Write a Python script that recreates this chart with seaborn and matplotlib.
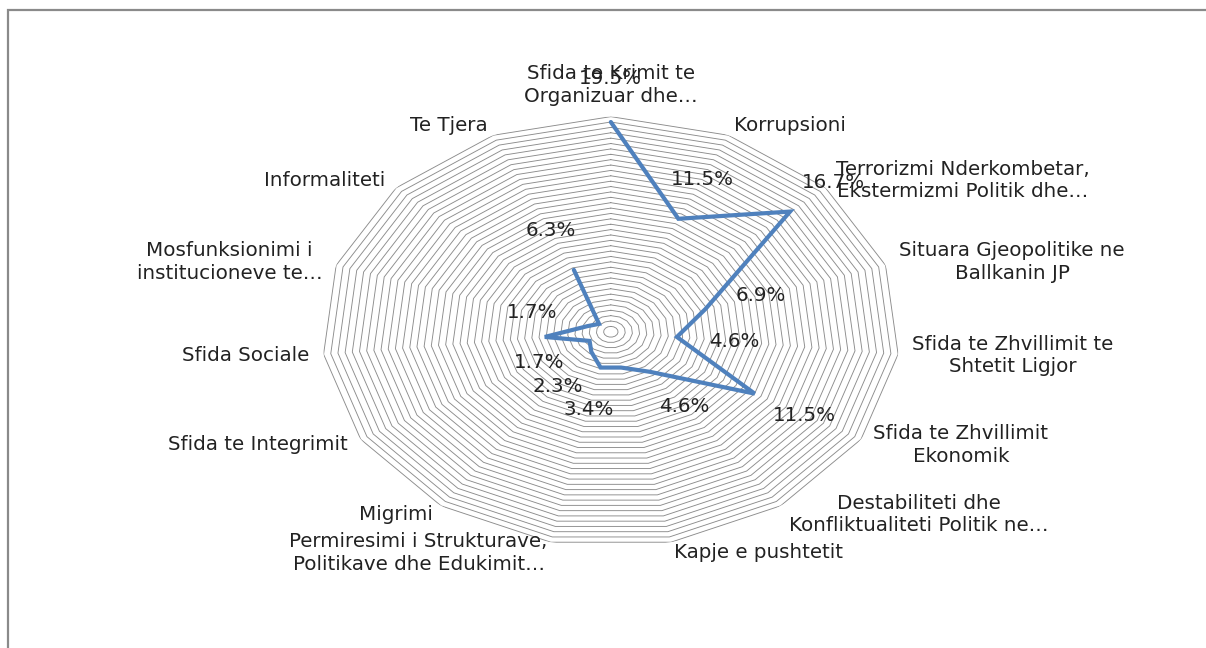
import numpy as np
import matplotlib
matplotlib.use("Agg")
import matplotlib.pyplot as plt
from matplotlib.patches import Rectangle
import seaborn as sns

# categories clockwise from the top
categories = [
    "Sfida te Krimit te\nOrganizuar dhe…",
    "Korrupsioni",
    "Terrorizmi Nderkombetar,\nEkstermizmi Politik dhe…",
    "Situara Gjeopolitike ne\nBallkanin JP",
    "Sfida te Zhvillimit te\nShtetit Ligjor",
    "Sfida te Zhvillimit\nEkonomik",
    "Destabiliteti dhe\nKonfliktualiteti Politik ne…",
    "Kapje e pushtetit",
    "Permiresimi i Strukturave,\nPolitikave dhe Edukimit…",
    "Migrimi",
    "Sfida te Integrimit",
    "Sfida Sociale",
    "Mosfunksionimi i\ninstitucioneve te…",
    "Informaliteti",
    "Te Tjera",
]
values = [19.5, 11.5, 16.7, 6.9, 4.6, 11.5, 4.6, 3.4, 3.4, 2.3, 1.7, 4.6, 1.7, 1.1, 6.3]
# some data labels are not shown in the original
label_shown = [True, True, True, True, True, True, True, False,
               True, True, True, False, True, False, True]

r_max = 20
ring_step = 0.5

sns.set_theme(style="white")
plt.rcParams["font.family"] = ["DejaVu Sans"]
text_color = "#222222"
font_size = 14.3

fig = plt.figure(figsize=(12.06, 6.48), dpi=100)

# outer frame of the chart area
fig.patches.append(Rectangle((8 / 1206, -0.05), 1.1, 0.05 + 1 - 10 / 648,
                             transform=fig.transFigure, fill=False,
                             edgecolor="#8a8a8a", linewidth=1.6))

# polar axes, stretched horizontally like the original
ax = fig.add_axes([0.267, 0.156, 0.479, 0.664], projection="polar")
ax.set_aspect("auto")
ax.set_theta_zero_location("N")
ax.set_theta_direction(-1)
ax.set_ylim(0, r_max)
ax.grid(False)
ax.spines["polar"].set_visible(False)
ax.set_xticks([])
ax.set_yticks([])
ax.patch.set_alpha(0)

n = len(categories)
theta = np.linspace(0, 2 * np.pi, n, endpoint=False)
theta_closed = np.append(theta, theta[0])

# polygon gridlines
for r in np.arange(ring_step, r_max + 0.01, ring_step):
    ax.plot(theta_closed, np.full(n + 1, r), color="#8c8c8c", linewidth=0.65, zorder=1)

# data series
sns.lineplot(x=theta_closed, y=np.append(values, values[0]), ax=ax, sort=False,
             color="#4F81BD", linewidth=3, zorder=3)
ax.lines[-1].set_solid_joinstyle("miter")

# data labels
for t, v, show in zip(theta, values, label_shown):
    if show:
        ax.text(t, v + 4, f"{v:.1f}%", ha="center", va="center",
                fontsize=font_size, color=text_color, zorder=4)

# category labels
for t, lab in zip(theta, categories):
    s = np.sin(t)
    if abs(s) < 0.05:
        ha, va = "center", "bottom"
    elif s > 0:
        ha, va = "left", "center"
    else:
        ha, va = "right", "center"
    ax.text(t, r_max * 1.05, lab, ha=ha, va=va, multialignment="center",
            fontsize=font_size, color=text_color, linespacing=1.25, zorder=4)

fig.savefig("out.png", dpi=100)
